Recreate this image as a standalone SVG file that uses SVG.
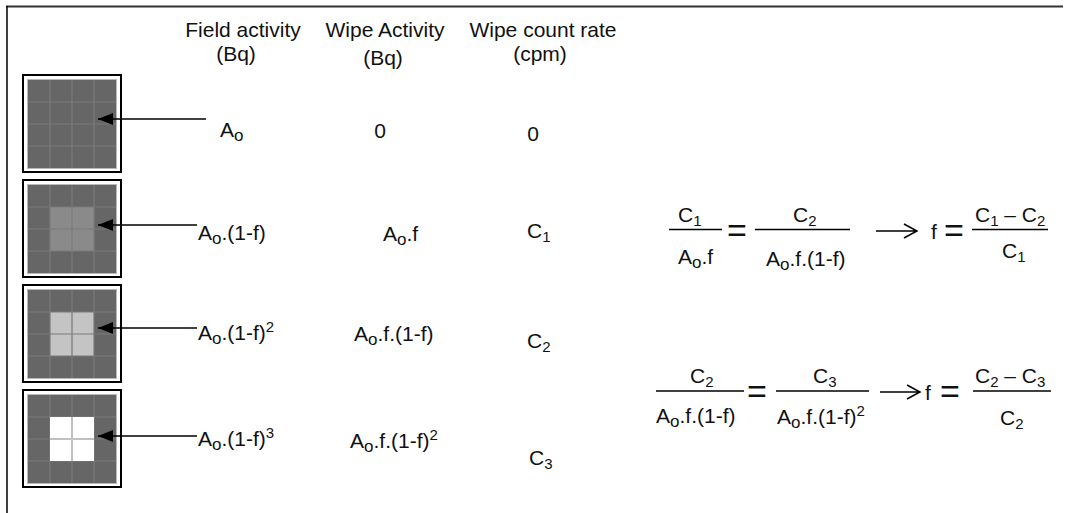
<svg xmlns="http://www.w3.org/2000/svg" width="1065" height="513" viewBox="0 0 1065 513">
<style>
text{font-family:"Liberation Sans",Arial,sans-serif;font-size:21px;fill:#111}
.c{text-anchor:middle}
.eq{font-size:34px;text-anchor:middle}
.outer{fill:#fff;stroke:#000;stroke-width:2}
.gray{fill:#666;stroke:#b8b8b8;stroke-width:1}
.gl{stroke:#7a7a7a;stroke-width:1.2}
.conn{stroke:#000;stroke-width:1.5;fill:none}
.fl{stroke:#000;stroke-width:1.5}
</style>
<defs>
<marker id="ah" markerWidth="16" markerHeight="12" refX="15" refY="6" orient="auto" markerUnits="userSpaceOnUse">
<path d="M0,0 L15,6 L0,12 Z" fill="#000"/>
</marker>
<g id="grid">
<line class="gl" x1="50" y1="0" x2="50" y2="88"/>
<line class="gl" x1="72" y1="0" x2="72" y2="88"/>
<line class="gl" x1="94" y1="0" x2="94" y2="88"/>
<line class="gl" x1="28" y1="22" x2="116" y2="22"/>
<line class="gl" x1="28" y1="44" x2="116" y2="44"/>
<line class="gl" x1="28" y1="66" x2="116" y2="66"/>
</g>
</defs>
<rect width="1065" height="513" fill="#fff"/>
<g id="frame">
<line x1="6" y1="6.5" x2="1063" y2="6.5" stroke="#333" stroke-width="2"/>
<line x1="7" y1="6" x2="7" y2="513" stroke="#000" stroke-width="1.5"/>
</g>
<g id="box1">
<rect class="outer" x="23" y="75" width="98" height="97"/>
<rect class="gray" x="27.5" y="79.5" width="89" height="89"/>
<use href="#grid" x="0" y="80"/>
</g>
<g id="box2">
<rect class="outer" x="23" y="180" width="98" height="97"/>
<rect class="gray" x="27.5" y="184.5" width="89" height="89"/>
<rect x="50" y="207" width="44" height="44" fill="#8a8a8a"/>
<use href="#grid" x="0" y="185"/>
</g>
<g id="box3">
<rect class="outer" x="23" y="285" width="98" height="97"/>
<rect class="gray" x="27.5" y="289.5" width="89" height="89"/>
<rect x="50" y="312" width="44" height="44" fill="#c4c4c4"/>
<use href="#grid" x="0" y="290"/>
</g>
<g id="box4">
<rect class="outer" x="23" y="390" width="98" height="97"/>
<rect class="gray" x="27.5" y="394.5" width="89" height="89"/>
<use href="#grid" x="0" y="395"/>
<rect x="50" y="417" width="44" height="44" fill="#fff"/>
<line x1="72" y1="417" x2="72" y2="461" stroke="#c0c0c0" stroke-width="2"/>
<line x1="50" y1="439" x2="94" y2="439" stroke="#c0c0c0" stroke-width="2"/>
</g>
<g id="connectors">
<line class="conn" x1="206" y1="119" x2="98" y2="119" marker-end="url(#ah)"/>
<line class="conn" x1="197" y1="225" x2="98" y2="225" marker-end="url(#ah)"/>
<line class="conn" x1="197" y1="328" x2="98" y2="328" marker-end="url(#ah)"/>
<line class="conn" x1="197" y1="436" x2="98" y2="436" marker-end="url(#ah)"/>
</g>
<g id="headers">
<text class="c" x="243" y="37">Field activity</text>
<text class="c" x="236" y="61">(Bq)</text>
<text class="c" x="385" y="37">Wipe Activity</text>
<text class="c" x="383" y="65">(Bq)</text>
<text class="c" x="543" y="37">Wipe count rate</text>
<text class="c" x="540" y="61">(cpm)</text>
</g>
<g id="row1">
<text x="220" y="137">A<tspan dy="4" font-size="17">o</tspan></text>
<text class="c" x="380" y="138">0</text>
<text class="c" x="533" y="141">0</text>
</g>
<g id="row2">
<text x="198" y="240">A<tspan dy="4" font-size="17">o</tspan><tspan dy="-4">.(1-f)</tspan></text>
<text x="383" y="241">A<tspan dy="4" font-size="17">o</tspan><tspan dy="-4">.f</tspan></text>
<text x="527" y="238">C<tspan dy="4" font-size="15">1</tspan></text>
</g>
<g id="row3">
<text x="198" y="340">A<tspan dy="4" font-size="17">o</tspan><tspan dy="-4">.(1-f)</tspan><tspan dy="-8" font-size="15">2</tspan></text>
<text x="354" y="341">A<tspan dy="4" font-size="17">o</tspan><tspan dy="-4">.f.(1-f)</tspan></text>
<text x="527" y="348">C<tspan dy="4" font-size="15">2</tspan></text>
</g>
<g id="row4">
<text x="198" y="446">A<tspan dy="4" font-size="17">o</tspan><tspan dy="-4">.(1-f)</tspan><tspan dy="-8" font-size="15">3</tspan></text>
<text x="350" y="448">A<tspan dy="4" font-size="17">o</tspan><tspan dy="-4">.f.(1-f)</tspan><tspan dy="-8" font-size="15">2</tspan></text>
<text x="529" y="465">C<tspan dy="4" font-size="15">3</tspan></text>
</g>
<g id="eq1">
<text x="678" y="222">C<tspan dy="4" font-size="15">1</tspan></text>
<line class="fl" x1="669" y1="229.5" x2="722" y2="229.5"/>
<text x="678" y="264">A<tspan dy="4" font-size="17">o</tspan><tspan dy="-4">.f</tspan></text>
<text class="eq" x="737" y="242">=</text>
<text x="793" y="222">C<tspan dy="4" font-size="15">2</tspan></text>
<line class="fl" x1="755" y1="229.5" x2="850" y2="229.5"/>
<text x="766" y="266">A<tspan dy="4" font-size="17">o</tspan><tspan dy="-4">.f.(1-f)</tspan></text>
<path d="M876,231 H916 M904,224 L917,231 L904,238" class="conn"/>
<text x="931" y="239">f</text>
<text class="eq" x="954" y="242">=</text>
<text x="975" y="222">C<tspan dy="4" font-size="15">1</tspan><tspan dy="-4"> – C</tspan><tspan dy="4" font-size="15">2</tspan></text>
<line class="fl" x1="972" y1="229.5" x2="1048" y2="229.5"/>
<text x="1002" y="258">C<tspan dy="4" font-size="15">1</tspan></text>
</g>
<g id="eq2">
<text x="690" y="383">C<tspan dy="4" font-size="15">2</tspan></text>
<line class="fl" x1="656" y1="391" x2="744" y2="391"/>
<text x="656" y="423">A<tspan dy="4" font-size="17">o</tspan><tspan dy="-4">.f.(1-f)</tspan></text>
<text class="eq" x="757" y="403">=</text>
<text x="813" y="383">C<tspan dy="4" font-size="15">3</tspan></text>
<line class="fl" x1="776" y1="391" x2="869" y2="391"/>
<text x="777" y="424">A<tspan dy="4" font-size="17">o</tspan><tspan dy="-4">.f.(1-f)</tspan><tspan dy="-8" font-size="15">2</tspan></text>
<path d="M880,392 H919 M907,385 L920,392 L907,399" class="conn"/>
<text x="925" y="400">f</text>
<text class="eq" x="950" y="403">=</text>
<text x="975" y="383">C<tspan dy="4" font-size="15">2</tspan><tspan dy="-4"> – C</tspan><tspan dy="4" font-size="15">3</tspan></text>
<line class="fl" x1="973" y1="391" x2="1051" y2="391"/>
<text x="1000" y="425">C<tspan dy="4" font-size="15">2</tspan></text>
</g>
</svg>
